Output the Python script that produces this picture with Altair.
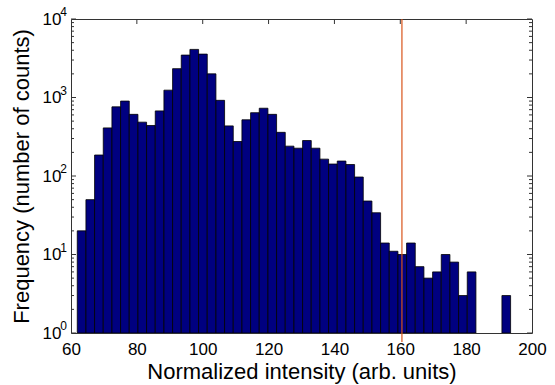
import altair as alt
import numpy as np
import pandas as pd

# ---- data ----
bin_lo = 61.9
bin_hi = 193.5
counts = [20, 50, 185, 410, 760, 900, 610, 485, 440, 675,
          1240, 2330, 3470, 4100, 3570, 2000, 920, 435, 275, 520,
          640, 730, 610, 360, 240, 226, 283, 226, 164, 142,
          155, 140, 97, 48, 34, 14, 11, 10, 14, 7,
          5, 6, 10, 8, 3, 6, 0, 0, 0, 3]
x_ticks = [60, 80, 100, 120, 140, 160, 180, 200]
y_decades = [1, 10, 100, 1000, 10000]
y_exps = ["0", "1", "2", "3", "4"]
threshold = 160.5

W, H = 461, 314
FONT = "Liberation Sans"

edges = np.linspace(bin_lo, bin_hi, len(counts) + 1)
bars_df = pd.DataFrame({"x0": edges[:-1], "x1": edges[1:], "count": counts})
bars_df = bars_df[bars_df["count"] > 0]

minor_vals = [m * 10 ** d for d in range(4) for m in range(2, 10)]
minor_df = pd.DataFrame({"v": minor_vals})
major_df = pd.DataFrame({"v": y_decades, "e": y_exps})
xt_df = pd.DataFrame({"v": x_ticks[1:-1]})

xscale = alt.Scale(domain=[60, 200], nice=False, zero=False)
yscale = alt.Scale(type="log", domain=[1, 10000], nice=False)

bars = alt.Chart(bars_df).mark_bar(
    color="#000080", stroke="#000000", strokeWidth=0.8, clip=True
).encode(
    x=alt.X("x0:Q", scale=xscale,
            axis=alt.Axis(values=x_ticks, title="Normalized intensity (arb. units)",
                          ticks=False, domain=False, grid=False,
                          labelFontSize=17, labelPadding=8, labelFont=FONT,
                          labelColor="#000", titleFont=FONT, titleFontSize=22,
                          titleFontWeight="normal", titleColor="#000", titlePadding=4,
                          labelFlush=False)),
    x2="x1:Q",
    y=alt.Y("count:Q", scale=yscale,
            axis=alt.Axis(values=y_decades, labelExpr="'10'",
                          title="Frequency (number of counts)",
                          ticks=False, domain=False, grid=False,
                          labelFontSize=17, labelPadding=10, labelFont=FONT,
                          labelColor="#000", titleFont=FONT, titleFontSize=22,
                          titleFontWeight="normal", titleColor="#000", titlePadding=9)),
    y2=alt.datum(1),
)

redline = alt.Chart(pd.DataFrame({"x": [threshold]})).mark_rule(
    color="#D95319", strokeWidth=1.2
).encode(x=alt.X("x:Q", scale=xscale), y=alt.datum(10000), y2=alt.datum(0.77))

tick_col = "#333333"
left_minor = alt.Chart(minor_df).mark_rule(color=tick_col, strokeWidth=1).encode(
    y=alt.Y("v:Q", scale=yscale), x=alt.value(0), x2=alt.value(3))
right_minor = alt.Chart(minor_df).mark_rule(color=tick_col, strokeWidth=1).encode(
    y=alt.Y("v:Q", scale=yscale), x=alt.value(W), x2=alt.value(W - 3))
left_major = alt.Chart(major_df).mark_rule(color=tick_col, strokeWidth=1).encode(
    y=alt.Y("v:Q", scale=yscale), x=alt.value(0), x2=alt.value(5))
right_major = alt.Chart(major_df).mark_rule(color=tick_col, strokeWidth=1).encode(
    y=alt.Y("v:Q", scale=yscale), x=alt.value(W), x2=alt.value(W - 5))
top_ticks = alt.Chart(xt_df).mark_rule(color=tick_col, strokeWidth=1).encode(
    x=alt.X("v:Q", scale=xscale), y=alt.value(0), y2=alt.value(5))

exps = alt.Chart(major_df).mark_text(
    align="right", baseline="alphabetic", dy=-3, fontSize=12, font=FONT, color="#000"
).encode(y=alt.Y("v:Q", scale=yscale), x=alt.value(-4), text="e:N")

chart = alt.layer(
    bars, redline, left_minor, right_minor, left_major, right_major, top_ticks, exps
).properties(
    width=W, height=H,
    autosize=alt.AutoSizeParams(type="none"),
    padding={"left": 71, "top": 19, "right": 23, "bottom": 52},
    background="white",
).configure_view(stroke="#333333", strokeWidth=1)

chart.save("out.html", embed_options={"renderer": "svg", "actions": False})
